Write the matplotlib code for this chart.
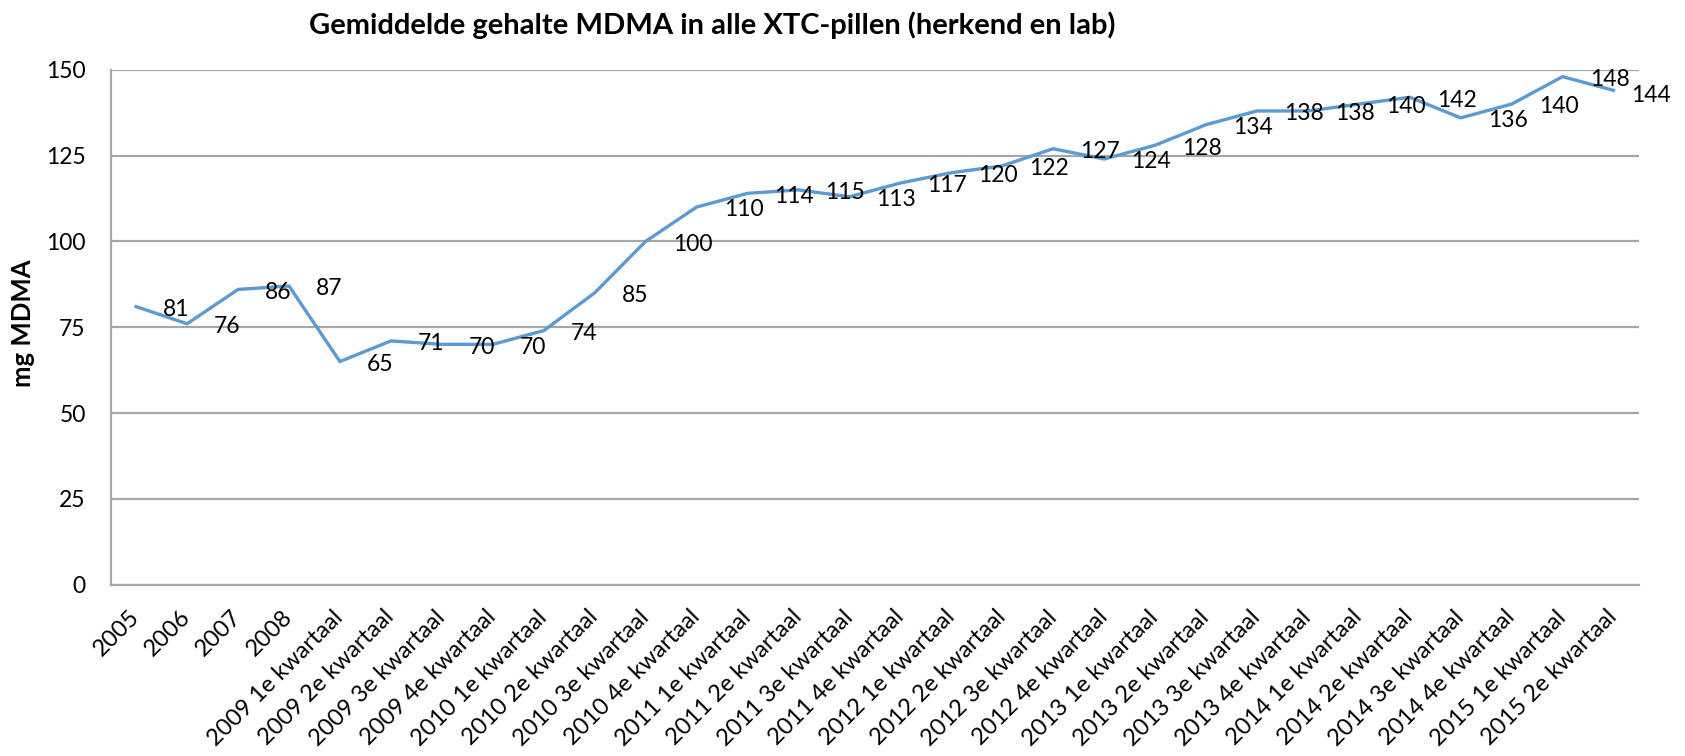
import matplotlib
matplotlib.use("Agg")
import matplotlib.pyplot as plt

plt.rcParams['font.family'] = ['Lato', 'DejaVu Sans']

categories = ["2005", "2006", "2007", "2008",
              "2009 1e kwartaal", "2009 2e kwartaal", "2009 3e kwartaal", "2009 4e kwartaal",
              "2010 1e kwartaal", "2010 2e kwartaal", "2010 3e kwartaal", "2010 4e kwartaal",
              "2011 1e kwartaal", "2011 2e kwartaal", "2011 3e kwartaal", "2011 4e kwartaal",
              "2012 1e kwartaal", "2012 2e kwartaal", "2012 3e kwartaal", "2012 4e kwartaal",
              "2013 1e kwartaal", "2013 2e kwartaal", "2013 3e kwartaal", "2013 4e kwartaal",
              "2014 1e kwartaal", "2014 2e kwartaal", "2014 3e kwartaal", "2014 4e kwartaal",
              "2015 1e kwartaal", "2015 2e kwartaal"]
mdma = [81, 76, 86, 87, 65, 71, 70, 70, 74, 85, 100, 110, 114, 115, 113, 117,
        120, 122, 127, 124, 128, 134, 138, 138, 140, 142, 136, 140, 148, 144]
yticks = [0, 25, 50, 75, 100, 125, 150]

title = "Gemiddelde gehalte MDMA in alle XTC-pillen (herkend en lab)"
ylabel = "mg MDMA"

fig = plt.figure(figsize=(16.85, 7.56), dpi=100)
ax = fig.add_axes([0.0657, 0.2267, 0.907, 0.681])

x = list(range(len(categories)))
ax.plot(x, mdma, color='#5B9BD5', lw=2.4, solid_joinstyle='miter', zorder=3)

ax.set_xlim(-0.5, len(categories) - 0.5)
ax.set_ylim(0, 150)
ax.set_yticks(yticks)
ax.set_yticklabels([str(v) for v in yticks], fontsize=16.5)
ax.yaxis.grid(True, color='#A6A6A6', lw=1.6)
ax.set_axisbelow(True)
for s in ['top', 'right']:
    ax.spines[s].set_visible(False)
for s in ['left', 'bottom']:
    ax.spines[s].set_color('#A6A6A6')
    ax.spines[s].set_linewidth(1.6)
ax.tick_params(axis='both', length=0)
ax.tick_params(axis='y', pad=18)

ax.set_xticks(x)
ax.set_xticklabels(categories, fontsize=17, rotation=45, ha='right',
                   va='center', rotation_mode='anchor')
ax.tick_params(axis='x', pad=21)

n = len(mdma)
for i, v in enumerate(mdma):
    dx = 19.5 if i < n - 1 else 12.5
    dy = -2.0 if i < n - 1 else -3.5
    ax.annotate(str(v), (i, v), xytext=(dx, dy), textcoords='offset points',
                ha='left', va='center', fontsize=16.5, zorder=4)

fig.text(0.4226, 0.967, title, ha='center', va='center', fontsize=21, fontweight='bold')
fig.text(0.0138, 0.573, ylabel, ha='center', va='center', rotation=90,
         fontsize=18.5, fontweight='bold')

fig.savefig('out.png', dpi=100)
